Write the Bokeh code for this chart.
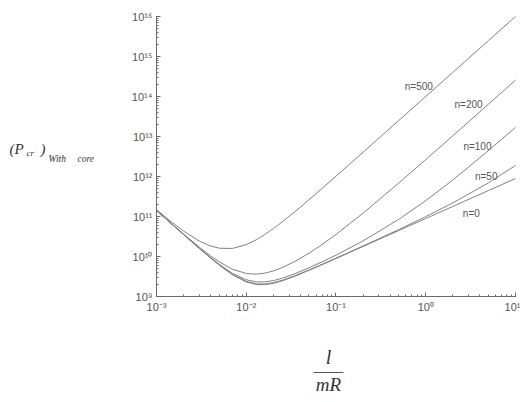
from bokeh.plotting import figure
from bokeh.models import Label, LogTicker, CustomJSTickFormatter, BoxAnnotation
from bokeh.embed import file_html
from bokeh.resources import INLINE

# l/mR values
x_vals = [0.001, 0.0015, 0.002, 0.003, 0.004, 0.005, 0.007, 0.01, 0.013, 0.016, 0.02,
          0.025, 0.035, 0.05, 0.07, 0.1, 0.2, 0.5, 1, 2, 5, 10]
# (P_cr) with core, per n
p_n0 = [1.411e11, 6.28e10, 3.54e10, 1.59e10, 9.17e9, 6.09e9, 3.50e9, 2.30e9, 1.99e9, 1.975e9, 2.13e9,
        2.45e9, 3.23e9, 4.51e9, 6.26e9, 8.91e9, 1.78e10, 4.45e10, 8.9e10, 1.78e11, 4.45e11, 8.9e11]
p_n50 = [1.412e11, 6.29e10, 3.55e10, 1.60e10, 9.25e9, 6.17e9, 3.58e9, 2.38e9, 2.07e9, 2.05e9, 2.21e9,
         2.53e9, 3.32e9, 4.61e9, 6.38e9, 9.09e9, 1.83e10, 4.71e10, 9.91e10, 2.18e11, 6.95e11, 1.89e12]
p_n100 = [1.414e11, 6.31e10, 3.57e10, 1.62e10, 9.47e9, 6.39e9, 3.81e9, 2.62e9, 2.32e9, 2.32e9, 2.49e9,
          2.85e9, 3.73e9, 5.21e9, 7.34e9, 1.08e10, 2.45e10, 8.48e10, 2.49e11, 8.18e11, 4.45e12, 1.69e13]
p_n200 = [1.423e11, 6.40e10, 3.66e10, 1.71e10, 1.04e10, 7.35e9, 4.83e9, 3.76e9, 3.62e9, 3.83e9, 4.35e9,
          5.25e9, 7.57e9, 1.21e10, 1.99e10, 3.57e10, 1.21e11, 6.86e11, 2.65e12, 1.04e13, 6.44e13, 2.57e14]
p_n500 = [1.487e11, 7.05e10, 4.33e10, 2.43e10, 1.83e10, 1.61e10, 1.59e10, 1.98e10, 2.64e10, 3.51e10, 4.96e10,
          7.25e10, 1.33e11, 2.62e11, 5.04e11, 1.016e12, 4.03e12, 2.51e13, 1.001e14, 4.0e14, 2.5e15, 1.0e16]

series_names = ["n=0", "n=50", "n=100", "n=200", "n=500"]
series_vals = [p_n0, p_n50, p_n100, p_n200, p_n500]
# curve label anchors (right end of text, baseline)
label_x = [4.0, 6.3, 5.4, 4.3, 1.2]
label_y = [1.2e11, 1.0e12, 5.6e12, 6.3e13, 1.8e14]

x_bounds = (1e-3, 1e1)
y_bounds = (1e9, 1e16)

W, H = 520, 400
# frame covers the whole canvas; axes drawn at fixed data locations
p = figure(width=W, height=H, x_axis_type="log", y_axis_type="log",
           x_range=(10 ** -4.738, 10 ** 1.0557), y_range=(10 ** 6.4, 10 ** 16.4),
           output_backend="svg", toolbar_location=None)
p.min_border = 0
p.outline_line_color = None
p.grid.visible = False
p.background_fill_color = "white"
p.border_fill_color = "white"

for name, vals in zip(series_names, series_vals):
    p.line(x_vals, vals, line_color="#828282", line_width=1.0)

for name, lx, ly in zip(series_names, label_x, label_y):
    p.add_layout(Label(x=lx, y=ly, text=name, text_align="right", text_baseline="alphabetic",
                       text_font="Liberation Sans", text_font_size="10px", text_color="#555555"))

fmt = CustomJSTickFormatter(code="""
const e = Math.round(Math.log10(tick));
const m = {'-':'\u207b','0':'\u2070','1':'\u00b9','2':'\u00b2','3':'\u00b3','4':'\u2074',
           '5':'\u2075','6':'\u2076','7':'\u2077','8':'\u2078','9':'\u2079'};
return '10' + String(e).split('').map(c => m[c]).join('');
""")

p.xaxis[0].fixed_location = y_bounds[0]
p.xaxis[0].bounds = x_bounds
p.yaxis[0].fixed_location = x_bounds[0]
p.yaxis[0].bounds = y_bounds
for ax in (p.xaxis[0], p.yaxis[0]):
    ax.formatter = fmt
    ax.ticker = LogTicker(desired_num_ticks=10, num_minor_ticks=10, mantissas=[1])
    ax.axis_line_color = "#6a6a6a"
    ax.major_tick_line_color = "#6a6a6a"
    ax.minor_tick_line_color = "#6a6a6a"
    ax.major_tick_in = 4
    ax.major_tick_out = 0
    ax.minor_tick_in = 2
    ax.minor_tick_out = 0
    ax.major_label_text_font = "Liberation Sans"
    ax.major_label_text_font_size = "11px"
    ax.major_label_text_color = "#555555"
    ax.major_label_standoff = 4

# y-axis label: (P_cr)_With core   (screen units: from frame left / bottom)
serif = "Liberation Serif"
tc = "#333333"
p.add_layout(Label(x=9, y=244, x_units="screen", y_units="screen", text="(P",
                   text_font=serif, text_font_style="italic", text_font_size="15px", text_color=tc))
p.add_layout(Label(x=26, y=243, x_units="screen", y_units="screen", text="cr",
                   text_font=serif, text_font_style="italic", text_font_size="9px", text_color=tc))
p.add_layout(Label(x=40, y=244, x_units="screen", y_units="screen", text=")",
                   text_font=serif, text_font_style="italic", text_font_size="15px", text_color=tc))
p.add_layout(Label(x=48, y=237, x_units="screen", y_units="screen", text="With",
                   text_font=serif, text_font_style="italic", text_font_size="9.5px", text_color=tc))
p.add_layout(Label(x=77, y=237, x_units="screen", y_units="screen", text="core",
                   text_font=serif, text_font_style="italic", text_font_size="9.5px", text_color=tc))

# x-axis label: l / mR
p.add_layout(Label(x=328, y=33, x_units="screen", y_units="screen", text="l", text_align="center",
                   text_font=serif, text_font_style="italic", text_font_size="20px", text_color=tc))
p.add_layout(BoxAnnotation(left=313, right=343, bottom=27.5, top=28.5,
                           left_units="screen", right_units="screen", bottom_units="screen", top_units="screen",
                           fill_color="#555555", fill_alpha=1.0, line_color=None))
p.add_layout(Label(x=328, y=6, x_units="screen", y_units="screen", text="mR", text_align="center",
                   text_font=serif, text_font_style="italic", text_font_size="19px", text_color=tc))

open("out.html", "w").write(file_html(p, INLINE))
